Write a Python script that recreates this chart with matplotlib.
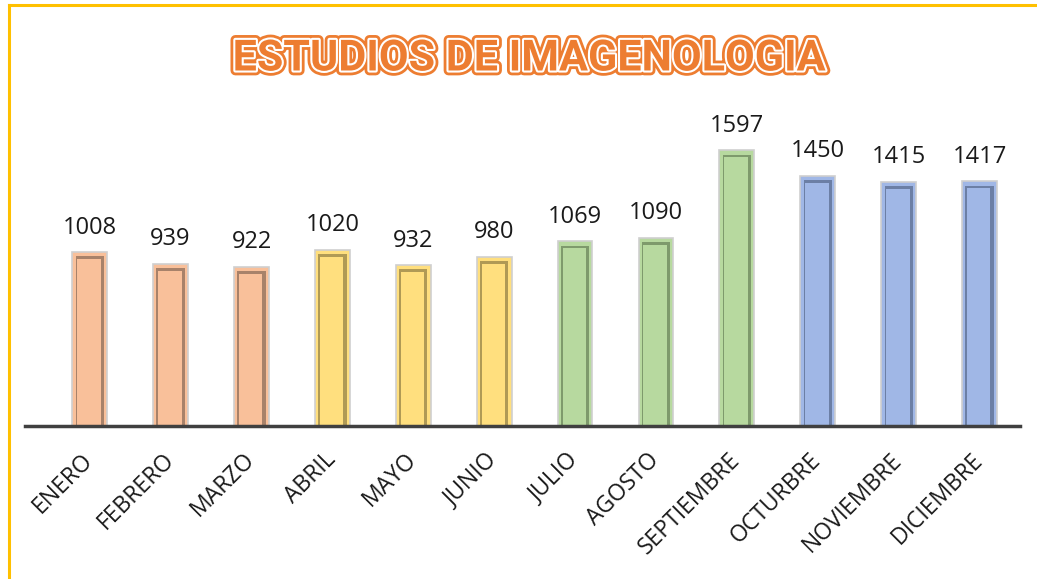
import matplotlib.pyplot as plt
import matplotlib.patheffects as pe
from matplotlib.lines import Line2D

months = ['ENERO', 'FEBRERO', 'MARZO', 'ABRIL', 'MAYO', 'JUNIO', 'JULIO',
          'AGOSTO', 'SEPTIEMBRE', 'OCTURBRE', 'NOVIEMBRE', 'DICIEMBRE']
studies = [1008, 939, 922, 1020, 932, 980, 1069, 1090, 1597, 1450, 1415, 1417]

# one colour per quarter: face, shade
quarter_face = ['#F9C09A', '#FFDF7E', '#B7D99F', '#A0B7E6']
quarter_shade = ['#A8826A', '#B09A55', '#7E9A6C', '#6C7FA5']

plt.rcParams['font.family'] = ['Open Sans', 'DejaVu Sans']

fig = plt.figure(figsize=(10.37, 5.79), dpi=100)
ax = fig.add_axes([25 / 1037, 153 / 579, 995 / 1037, 286 / 579])

x = list(range(len(months)))
faces = [quarter_face[i // 3] for i in x]
shades = [quarter_shade[i // 3] for i in x]

# outer bar, a darker frame and an inner face to suggest the bevel
ax.bar(x, studies, width=0.43, color=faces, edgecolor='#CFCFCF', linewidth=1.2, zorder=2)
ax.bar(x, [v - 25 for v in studies], width=0.35, color=shades, linewidth=0, zorder=3)
ax.bar([i - 0.01 for i in x], [v - 40 for v in studies], width=0.29, color=faces,
       linewidth=0, zorder=4)

for i, v in zip(x, studies):
    ax.annotate(str(v), (i, v), xytext=(0, 9), textcoords='offset points',
                ha='center', va='bottom', fontsize=17, color='#1a1a1a')

ax.set_xlim(-0.8, 11.5)
ax.set_ylim(0, 1657)
ax.set_yticks([])
for s in ['top', 'right', 'left']:
    ax.spines[s].set_visible(False)
ax.spines['bottom'].set_color('#404040')
ax.spines['bottom'].set_linewidth(2.5)
ax.spines['bottom'].set_zorder(5)

ax.set_xticks(x)
ax.set_xticklabels(months, rotation=45, ha='right', va='center',
                   rotation_mode='anchor', fontsize=16.5, color='#1a1a1a')
ax.tick_params(axis='x', length=0, pad=22)

title = fig.text(529 / 1037, 1 - 59 / 579, 'ESTUDIOS DE IMAGENOLOGIA',
                 ha='center', va='center', fontsize=31, fontweight='bold',
                 color='#ED7D31', family=['Roboto', 'DejaVu Sans'])
title.set_path_effects([pe.Stroke(linewidth=7, foreground='#ED7D31'),
                        pe.Stroke(linewidth=3, foreground='white'),
                        pe.Normal()])

# yellow frame, only top and left edges visible
fig.add_artist(Line2D([9 / 1037, 9 / 1037], [0, 1 - 5 / 579], color='#FFC000', linewidth=2.2))
fig.add_artist(Line2D([9 / 1037, 1], [1 - 5 / 579, 1 - 5 / 579], color='#FFC000', linewidth=2.2))

plt.savefig('out.png', dpi=100)
